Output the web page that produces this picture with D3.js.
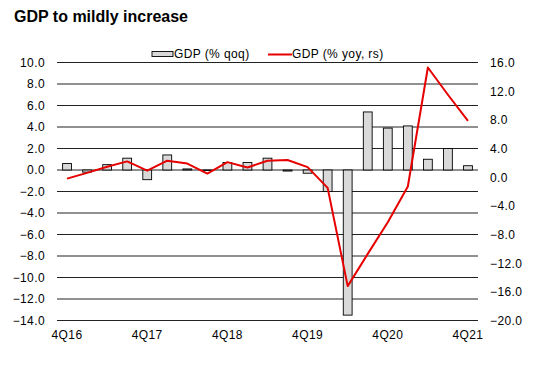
<!DOCTYPE html>
<html>
<head>
<meta charset="utf-8">
<script src="https://cdn.jsdelivr.net/npm/d3@7.9.0/dist/d3.min.js"></script>
<style>
  body { margin: 0; background: #fff; }
  svg text { font-family: "Liberation Sans", Arial, sans-serif; }
</style>
</head>
<body>
<div id="chart"></div>
<script>
// quarters 4Q16 .. 4Q21
const quarters = [
  "4Q16", "1Q17", "2Q17", "3Q17", "4Q17", "1Q18", "2Q18", "3Q18", "4Q18",
  "1Q19", "2Q19", "3Q19", "4Q19", "1Q20", "2Q20", "3Q20", "4Q20",
  "1Q21", "2Q21", "3Q21", "4Q21"
];
const tickQuarters = ["4Q16", "4Q17", "4Q18", "4Q19", "4Q20", "4Q21"];

// GDP % qoq (bars, left axis)
const gdpQoq = [0.6, -0.2, 0.5, 1.1, -0.9, 1.4, 0.1, -0.05, 0.7,
  0.7, 1.1, -0.1, -0.3, -2.0, -13.5, 5.4, 3.9,
  4.1, 1.0, 2.0, 0.4];

// GDP % yoy (line, right axis)
const gdpYoy = [-0.2, 0.6, 1.45, 2.2, 0.9, 2.3, 1.9, 0.5, 2.1,
  1.35, 2.3, 2.4, 1.4, -1.5, -15.2, -10.7, -6.3,
  -1.3, 15.3, 11.5, 7.85];

const leftTicks = [10, 8, 6, 4, 2, 0, -2, -4, -6, -8, -10, -12, -14];
const rightTicks = [16, 12, 8, 4, 0, -4, -8, -12, -16, -20];

const width = 538, height = 375;
const plot = { left: 57, right: 478, top: 62.5, bottom: 320.5 };
const red = "#e60000";

const svg = d3.select("#chart").append("svg")
  .attr("width", width)
  .attr("height", height);

const x = d3.scaleBand()
  .domain(quarters)
  .range([plot.left, plot.right])
  .paddingInner(0.56)
  .paddingOuter(0.28);

const yL = d3.scaleLinear().domain([-14, 10]).range([plot.bottom, plot.top]);
const yR = d3.scaleLinear().domain([-20, 16]).range([plot.bottom, plot.top]);

// title
svg.append("text")
  .attr("x", 14)
  .attr("y", 22)
  .style("font-size", "16px")
  .style("font-weight", "bold")
  .text("GDP to mildly increase");

// gridlines from left axis ticks
svg.append("g")
  .selectAll("line")
  .data(leftTicks)
  .join("line")
  .attr("x1", plot.left)
  .attr("x2", plot.right)
  .attr("y1", d => yL(d))
  .attr("y2", d => yL(d))
  .attr("stroke", "#222")
  .attr("stroke-width", 1);

// left axis
const axisL = svg.append("g")
  .attr("transform", `translate(${plot.left},0)`)
  .call(d3.axisLeft(yL).tickValues(leftTicks).tickFormat(d3.format(".1f")).tickSize(0).tickPadding(12));
axisL.select(".domain").remove();
axisL.selectAll("text")
  .style("font-size", "12px")
  .style("letter-spacing", "0.4px")
  .attr("fill", "#000");

// right axis
const axisR = svg.append("g")
  .attr("transform", `translate(${plot.right},0)`)
  .call(d3.axisRight(yR).tickValues(rightTicks).tickFormat(d3.format(".1f")).tickSize(0).tickPadding(12));
axisR.select(".domain").remove();
axisR.selectAll("text")
  .style("font-size", "12px")
  .style("letter-spacing", "0.4px")
  .attr("fill", "#000");

// x axis labels
const axisX = svg.append("g")
  .attr("transform", `translate(0,${plot.bottom})`)
  .call(d3.axisBottom(x).tickValues(tickQuarters).tickSize(0).tickPadding(10));
axisX.select(".domain").remove();
axisX.selectAll("text")
  .style("font-size", "12px")
  .style("letter-spacing", "0.4px")
  .attr("fill", "#000");

// bars
svg.append("g")
  .selectAll("rect")
  .data(gdpQoq)
  .join("rect")
  .attr("x", (d, i) => x(quarters[i]))
  .attr("width", x.bandwidth())
  .attr("y", d => yL(Math.max(0, d)))
  .attr("height", d => Math.abs(yL(d) - yL(0)))
  .attr("fill", "#d9d9d9")
  .attr("stroke", "#000")
  .attr("stroke-width", 0.9);

// yoy line
const line = d3.line()
  .x((d, i) => x(quarters[i]) + x.bandwidth() / 2)
  .y(d => yR(d));

svg.append("path")
  .datum(gdpYoy)
  .attr("d", line)
  .attr("fill", "none")
  .attr("stroke", red)
  .attr("stroke-width", 2)
  .attr("stroke-linejoin", "round");

// legend
const legend = svg.append("g");
legend.append("rect")
  .attr("x", 152).attr("y", 51.5)
  .attr("width", 21).attr("height", 5)
  .attr("fill", "#d9d9d9")
  .attr("stroke", "#000")
  .attr("stroke-width", 0.9);
legend.append("text")
  .attr("x", 174).attr("y", 58)
  .style("font-size", "12px")
  .style("letter-spacing", "0.4px")
  .text("GDP (% qoq)");
legend.append("line")
  .attr("x1", 268).attr("x2", 292)
  .attr("y1", 54.5).attr("y2", 54.5)
  .attr("stroke", red)
  .attr("stroke-width", 2);
legend.append("text")
  .attr("x", 292).attr("y", 58)
  .style("font-size", "12px")
  .style("letter-spacing", "0.4px")
  .text("GDP (% yoy, rs)");
</script>
</body>
</html>
